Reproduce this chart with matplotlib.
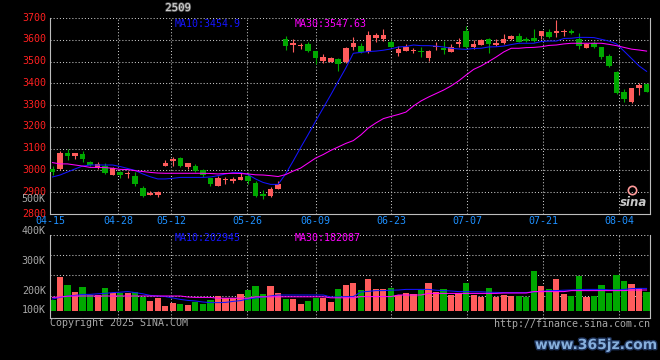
#!/usr/bin/env python3
# Sina-style daily K-line chart for contract 2509 (price + volume panels)

import matplotlib
matplotlib.use("Agg")
import matplotlib.pyplot as plt
import matplotlib.patheffects as pe
import matplotlib.transforms as mtransforms
import numpy as np

# ------------- Data -------------
TITLE = "2509"

OPEN = [3007, 3005, 3080, 3068, 3077, 3040, 3010, 3022, 2980, 2993,
        2985, 2973, 2918, 2887, 2887, 3022, 3043, 3057, 3017, 3020,
        3002, 2964, 2930, 2957, 2953, 2956, 2975, 2944, 2890, 2883,
        2915, 3603, 3578, 3572, 3582, 3548, 3503, 3500, 3512, 3497,
        3568, 3571, 3545, 3608, 3604, 3591, 3540, 3550, 3548, 3550,
        3518, 3565, 3562, 3545, 3580, 3640, 3565, 3576, 3603, 3577,
        3584, 3603, 3618, 3603, 3610, 3619, 3637, 3630, 3635, 3640,
        3602, 3561, 3587, 3565, 3526, 3453, 3359, 3313, 3380, 3395]
HIGH = [3020, 3088, 3097, 3080, 3090, 3045, 3037, 3032, 3017, 2998,
        2998, 2993, 2929, 2907, 2905, 3048, 3060, 3060, 3036, 3030,
        3005, 2966, 2973, 2972, 2972, 2990, 2995, 2952, 2910, 2922,
        2950, 3617, 3602, 3585, 3590, 3550, 3533, 3522, 3515, 3565,
        3614, 3583, 3640, 3630, 3650, 3600, 3571, 3580, 3563, 3568,
        3553, 3588, 3594, 3580, 3607, 3665, 3600, 3602, 3610, 3602,
        3627, 3622, 3630, 3614, 3650, 3642, 3650, 3691, 3650, 3648,
        3632, 3587, 3596, 3568, 3533, 3455, 3373, 3378, 3403, 3395]
LOW = [2979, 3000, 3048, 3051, 3040, 3020, 3008, 2982, 2980, 2966,
       2964, 2929, 2877, 2885, 2877, 3022, 3022, 3018, 3005, 2995,
       2972, 2930, 2930, 2940, 2942, 2954, 2938, 2880, 2870, 2877,
       2915, 3553, 3545, 3558, 3545, 3487, 3492, 3498, 3458, 3495,
       3553, 3538, 3540, 3590, 3596, 3565, 3525, 3548, 3540, 3522,
       3502, 3553, 3533, 3543, 3565, 3563, 3556, 3574, 3538, 3570,
       3580, 3600, 3588, 3590, 3590, 3603, 3610, 3614, 3619, 3628,
       3558, 3561, 3563, 3510, 3476, 3351, 3313, 3308, 3347, 3358]
CLOSE = [2992, 3080, 3068, 3080, 3052, 3025, 3028, 2987, 3012, 2980,
         2990, 2938, 2884, 2898, 2903, 3036, 3054, 3020, 3032, 2998,
         2978, 2938, 2964, 2963, 2960, 2971, 2950, 2883, 2882, 2913,
         2940, 3573, 3583, 3575, 3550, 3515, 3520, 3518, 3490, 3562,
         3586, 3545, 3622, 3622, 3622, 3568, 3556, 3565, 3551, 3542,
         3550, 3573, 3553, 3565, 3588, 3565, 3580, 3599, 3579, 3584,
         3603, 3619, 3591, 3596, 3596, 3642, 3614, 3642, 3642, 3630,
         3573, 3579, 3568, 3522, 3481, 3357, 3327, 3377, 3392, 3362]

MA10 = [2970, 2979, 2993, 3007, 3020, 3025, 3025, 3025, 3025, 3018,
        3009, 3000, 2984, 2971, 2961, 2961, 2964, 2968, 2968, 2968,
        2968, 2970, 2976, 2984, 2990, 2990, 2981, 2961, 2945, 2936,
        2936, 2984, 3043, 3105, 3165, 3227, 3287, 3347, 3409, 3470,
        3538, 3542, 3546, 3548, 3552, 3558, 3567, 3569, 3576, 3573,
        3573, 3571, 3567, 3561, 3558, 3556, 3560, 3561, 3567, 3568,
        3571, 3578, 3584, 3584, 3584, 3592, 3594, 3594, 3606, 3607,
        3611, 3611, 3610, 3602, 3594, 3581, 3548, 3514, 3480, 3455]
MA30 = [3036, 3030, 3030, 3025, 3020, 3014, 3014, 3013, 3010, 3005,
        3004, 2999, 2995, 2991, 2988, 2987, 2987, 2987, 2987, 2987,
        2987, 2986, 2984, 2986, 2987, 2986, 2984, 2980, 2979, 2976,
        2972, 2981, 2997, 3011, 3034, 3057, 3073, 3092, 3108, 3124,
        3137, 3163, 3195, 3218, 3238, 3248, 3257, 3268, 3296, 3319,
        3337, 3353, 3369, 3388, 3411, 3438, 3464, 3480, 3500, 3521,
        3544, 3561, 3561, 3564, 3565, 3568, 3574, 3576, 3581, 3584,
        3584, 3584, 3584, 3584, 3579, 3573, 3565, 3557, 3553, 3548]

# volume in thousands
VOLUME = [155, 272, 230, 197, 222, 180, 180, 217, 188, 188,
          188, 197, 172, 152, 163, 127, 142, 135, 130, 147,
          133, 155, 175, 163, 163, 185, 205, 225, 185, 225,
          192, 160, 160, 135, 152, 163, 163, 147, 210, 230,
          242, 205, 260, 210, 210, 213, 180, 192, 185, 205,
          242, 197, 210, 180, 192, 242, 180, 168, 215, 172,
          180, 175, 175, 172, 300, 225, 208, 260, 185, 175,
          277, 172, 175, 230, 192, 280, 250, 235, 217, 197]
VOL_MA10 = [160, 168, 175, 178, 183, 183, 186, 188, 192, 194,
            197, 192, 186, 178, 175, 172, 165, 158, 153, 150,
            145, 142, 142, 143, 148, 152, 160, 165, 170, 175,
            180, 180, 180, 180, 180, 180, 180, 170, 170, 172,
            172, 195, 198, 202, 202, 204, 205, 208, 208, 208,
            208, 204, 202, 200, 197, 197, 196, 196, 194, 193,
            192, 192, 192, 192, 196, 198, 202, 202, 204, 205,
            207, 208, 208, 208, 206, 205, 208, 212, 213, 213]
VOL_MA30 = [168, 170, 174, 175, 175, 175, 175, 175, 175, 175,
            175, 175, 175, 175, 175, 175, 175, 175, 170, 168,
            168, 168, 164, 164, 164, 164, 164, 171, 171, 171,
            171, 171, 171, 171, 171, 171, 171, 166, 166, 166,
            166, 172, 172, 172, 172, 172, 180, 180, 180, 180,
            188, 188, 188, 188, 188, 188, 188, 188, 188, 188,
            190, 190, 190, 190, 197, 197, 197, 197, 197, 202,
            202, 202, 202, 202, 202, 202, 202, 205, 205, 205]

DATE_LABELS = ["04-15", "04-28", "05-12", "05-26", "06-09", "06-23", "07-07", "07-21", "08-04"]
DATE_INDEX = [0, 9, 16, 26, 35, 45, 55, 65, 75]

PRICE_TICKS = [2800, 2900, 3000, 3100, 3200, 3300, 3400, 3500, 3600, 3700]

MA10_TXT = "MA10:3454.9"
MA30_TXT = "MA30:3547.63"
VMA10_TXT = "MA10:202945"
VMA30_TXT = "MA30:182087"

# ------------- Style -------------
W, H = 660, 360
BG = "black"
FRAME = "#BDBDBD"
GRID = "#C8C8C8"
UP = "#FF5C5C"
DOWN = "#00A800"
C_MA10 = "#1414FF"
C_MA30 = "#FF00FF"
C_PRICE_LBL = "#FF2020"
C_DATE = "#1E90FF"
C_GREY = "#A8A8A8"
MONO = "DejaVu Sans Mono"
FS = 7.2
DOT = (0, (1, 2))

plt.rcParams["font.family"] = [MONO]

def fx(px): return px / W
def fy(py): return 1 - py / H

# candle i sits at pixel 52.5 + 7.52*i, plot frames run from px 50 to 650
STEP = 7.52
X0 = 52.5
XLIM = ((50 - X0) / STEP, (650 - X0) / STEP)
# date grid lines are spaced a hair differently in the original
GRID_X = [(50 + 7.587 * i - X0) / STEP for i in DATE_INDEX]

x = np.arange(len(CLOSE))
o = np.array(OPEN); c = np.array(CLOSE)
colors = [UP if cc >= oo else DOWN for oo, cc in zip(o, c)]

fig = plt.figure(figsize=(W / 100, H / 100), dpi=100, facecolor=BG)
lift = mtransforms.ScaledTranslation(0, 1.5 / 100, fig.dpi_scale_trans)

# ------------- Price panel -------------
ax = fig.add_axes([fx(50), fy(214), 600 / W, 196 / H], facecolor=BG)
ax.set_xlim(*XLIM)
ax.set_ylim(2800, 3700)
for p in PRICE_TICKS[1:-1]:
    ax.axhline(p, color=GRID, lw=0.75, ls=DOT, zorder=0)
ax.axhline(3700, color=GRID, lw=0.75, ls=DOT, zorder=0)
for gx in GRID_X[1:]:
    ax.axvline(gx, color=GRID, lw=0.75, ls=DOT, zorder=0)

ax.vlines(x, LOW, HIGH, colors=colors, lw=0.8, zorder=2)
body_h = np.maximum(np.abs(c - o), 4.6)
ax.bar(x, body_h, bottom=np.minimum(o, c), width=0.74, color=colors, lw=0, zorder=3)

ax.plot(x, MA10, color=C_MA10, lw=0.75, zorder=4)
ax.plot(x, MA30, color=C_MA30, lw=0.75, zorder=4)

ax.set_yticks(PRICE_TICKS)
ax.set_yticklabels([str(p) for p in PRICE_TICKS])
ax.set_xticks([])
ax.tick_params(axis="y", length=0, pad=3, labelcolor=C_PRICE_LBL, labelsize=FS)
for t in ax.get_yticklabels():
    t.set_transform(t.get_transform() + lift)
for s in ["left", "right", "bottom"]:
    ax.spines[s].set_color(FRAME); ax.spines[s].set_linewidth(0.8)
ax.spines["top"].set_visible(False)

# stray volume label that sits inside the price scale in the original
ax.text(-0.007, 2868, "500K", transform=mtransforms.blended_transform_factory(ax.transAxes, ax.transData),
        ha="right", va="center", color=C_GREY, fontsize=FS, clip_on=False)

for lbl, gx in zip(DATE_LABELS, GRID_X):
    ax.text(gx, -0.036, lbl, transform=mtransforms.blended_transform_factory(ax.transData, ax.transAxes),
            ha="center", va="center", color=C_DATE, fontsize=FS, clip_on=False)

# ------------- Volume panel -------------
axv = fig.add_axes([fx(50), fy(318), 600 / W, 83 / H], facecolor=BG)
axv.set_xlim(*XLIM)
axv.set_ylim(65, 480)
for v in [175, 280, 380]:
    axv.axhline(v, color=GRID, lw=0.75, ls=DOT, zorder=0)
axv.axhline(480, color=GRID, lw=0.75, ls=DOT, zorder=0)
for gx in GRID_X[1:]:
    axv.axvline(gx, color=GRID, lw=0.75, ls=DOT, zorder=0)

vol = np.array(VOLUME)
axv.bar(x, vol - 100, bottom=100, width=0.82, color=colors, lw=0, zorder=2)
axv.plot(x, VOL_MA10, color=C_MA10, lw=0.75, zorder=4)
axv.plot(x, VOL_MA30, color=C_MA30, lw=0.75, zorder=4)

axv.set_xticks([]); axv.set_yticks([])
for s in ["left", "right", "bottom"]:
    axv.spines[s].set_color(FRAME); axv.spines[s].set_linewidth(0.8)
axv.spines["top"].set_visible(False)

vtr = mtransforms.blended_transform_factory(axv.transAxes, axv.transData)
for lbl, v in [("400K", 500), ("300K", 350), ("200K", 200), ("100K", 105)]:
    axv.text(-0.007, v, lbl, transform=vtr, ha="right", va="center", color=C_GREY, fontsize=FS, clip_on=False)

# ------------- Texts -------------
fig.text(fx(178), fy(8), TITLE, ha="center", va="center", color="#D8D8D8", fontsize=FS + 0.5,
         path_effects=[pe.withStroke(linewidth=1.2, foreground="#555555")])
fig.text(fx(175), fy(24), MA10_TXT, ha="left", va="center", color=C_MA10, fontsize=FS)
fig.text(fx(295), fy(24), MA30_TXT, ha="left", va="center", color=C_MA30, fontsize=FS)
fig.text(fx(175), fy(238), VMA10_TXT, ha="left", va="center", color=C_MA10, fontsize=FS)
fig.text(fx(295), fy(238), VMA30_TXT, ha="left", va="center", color=C_MA30, fontsize=FS)
fig.text(fx(50), fy(323), "Copyright 2025 SINA.COM", ha="left", va="center", color=C_GREY, fontsize=FS)
fig.text(fx(650), fy(324), "http://finance.sina.com.cn", ha="right", va="center", color=C_GREY, fontsize=FS)

# sina logo
fig.text(fx(634), fy(203), "sina", ha="center", va="center", color="#C8C8C8", fontsize=8.5,
         family="DejaVu Sans", style="italic", weight="bold")
ax.plot([0.97], [0.12], transform=ax.transAxes, marker="o", ms=6, mfc="none", mec="#FF9A9A", mew=1.2, zorder=5)

# watermark
fig.text(fx(596), fy(345), "www.365jz.com", ha="center", va="center", color="#86AEDC",
         fontsize=10, family="DejaVu Sans", weight="bold",
         path_effects=[pe.withStroke(linewidth=2, foreground="#1B2F55")])

fig.savefig("out.png", dpi=100, facecolor=BG)
